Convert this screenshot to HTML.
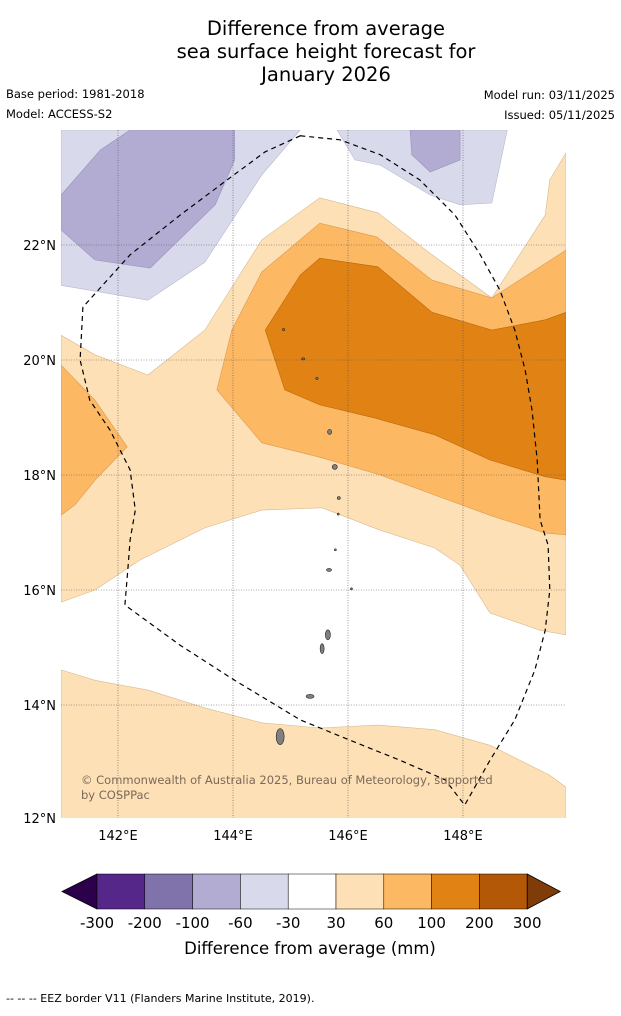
<!DOCTYPE html>
<html><head><meta charset="utf-8">
<style>
body{margin:0;background:#fff;width:621px;height:1011px;overflow:hidden;font-family:"Liberation Sans","DejaVu Sans",sans-serif;}
svg text{font-family:"DejaVu Sans","Liberation Sans",sans-serif;}
</style></head>
<body>
<svg id="chart" width="621" height="1011" viewBox="0 0 621 1011" xmlns="http://www.w3.org/2000/svg">
<g font-size="19.5" text-anchor="middle" fill="#000">
<text x="326" y="35">Difference from average</text>
<text x="326" y="58">sea surface height forecast for</text>
<text x="326" y="81">January 2026</text>
</g>
<g font-size="11.5" fill="#000">
<text x="6" y="98">Base period: 1981-2018</text>
<text x="6" y="118">Model: ACCESS-S2</text>
<text x="615" y="99" text-anchor="end">Model run: 03/11/2025</text>
<text x="615" y="119" text-anchor="end">Issued: 05/11/2025</text>
</g>
<defs><clipPath id="mapclip"><rect x="61" y="130" width="505" height="688"/></clipPath></defs>
<g id="map" clip-path="url(#mapclip)"></g>
<g id="overlay"></g>
<g id="cbar"></g>
<text x="310" y="954" text-anchor="middle" font-size="16.5">Difference from average (mm)</text>
<text x="6" y="1002" font-size="11">--  --  -- EEZ border V11 (Flanders Marine Institute, 2019).</text>
</svg>
<script>
// Map extent (degrees)
const lonMin = 141.0, lonMax = 149.79, latMin = 12.03, latMax = 24.0;
const lonTicks = [142, 144, 146, 148];
const latTicks = [14, 16, 18, 20, 22];
const gridLons = [142, 144, 146, 148];
const gridLats = [14, 16, 18, 20, 22];

// Contour regions [lon, lat]
const lightPurpleA = [[141.01,24],[145.17,24],[144.5,23.22],[143.51,21.7],[142.52,21.04],[141.01,21.3]];
const lightPurpleB = [[145.81,24],[148.77,24],[148.5,22.73],[147.95,22.7],[147.43,22.87],[146.56,23.39],[146.12,23.48]];
const medPurpleA = [[141.01,22.87],[141.69,23.65],[142.21,24],[144.03,24],[144.03,23.48],[143.69,22.7],[142.56,21.6],[141.6,21.74],[141.01,22.26]];
const medPurpleB = [[147.08,24],[147.95,24],[147.95,23.48],[147.43,23.27],[147.11,23.57]];
const lightOrange = [[141.01,20.43],[141.6,20.09],[142.52,19.74],[143.51,20.52],[144.5,22.09],[145.51,22.82],[146.52,22.56],[147.46,21.83],[148.5,21.08],[149.43,22.52],[149.51,23.13],[149.79,23.6],[149.79,15.22],[149.34,15.3],[148.47,15.6],[147.95,16.43],[147.51,16.73],[146.56,17.04],[145.55,17.43],[144.5,17.39],[143.51,17.08],[142.38,16.52],[141.6,16],[141.01,15.79]];
const orangeA = [[143.72,19.48],[143.98,20.52],[144.5,21.53],[145.51,22.38],[146.5,22.14],[147.46,21.39],[148.5,21.08],[149.79,21.91],[149.79,16.96],[149.43,16.99],[148.47,17.3],[147.51,17.65],[146.56,18],[145.51,18.31],[144.5,18.56]];
const orangeB = [[141.01,19.91],[141.6,19.3],[142.16,18.49],[141.6,17.91],[141.25,17.48],[141.01,17.3]];
const darkOrange = [[144.56,20.52],[145.17,21.48],[145.51,21.77],[146.52,21.62],[147.46,20.83],[148.5,20.52],[149.43,20.7],[149.79,20.83],[149.79,17.91],[149.43,17.97],[148.47,18.26],[147.51,18.7],[146.47,18.99],[145.51,19.22],[144.9,19.48]];
const lightOrangeS = [[141.01,14.61],[141.6,14.43],[142.52,14.26],[143.51,13.95],[144.5,13.69],[145.51,13.6],[146.52,13.65],[147.51,13.57],[148.47,13.3],[149.51,12.78],[149.79,12.57],[149.79,12.03],[141.01,12.03]];
const eez = [[145.17,23.9],[145.86,23.83],[146.56,23.57],[147.25,23.13],[147.86,22.52],[148.3,21.83],[148.64,21.22],[148.9,20.52],[149.08,19.83],[149.2,19.13],[149.29,18.26],[149.34,17.22],[149.48,16.78],[149.51,16],[149.43,15.3],[149.25,14.61],[148.9,13.74],[148.47,13.04],[148.03,12.26],[147.69,12.7],[146.9,13.04],[146.03,13.39],[145.17,13.74],[144.03,14.43],[143.08,15.04],[142.12,15.74],[142.17,16.35],[142.21,16.87],[142.3,17.39],[142.21,18.09],[141.86,18.78],[141.51,19.3],[141.34,20],[141.39,20.92],[142.21,21.83],[143.08,22.52],[143.95,23.17],[144.56,23.62]];
const islands = [[144.88,20.53,1.2,1],[145.22,20.02,1.5,1],[145.46,19.68,1.2,1],[145.68,18.75,2,2.5],[145.77,18.14,2.5,2.5],[145.84,17.6,1.5,1.5],[145.83,17.32,1,1],[145.78,16.7,1,1],[145.67,16.35,2.5,1.5],[146.06,16.02,1,1],[145.65,15.22,2.5,5],[145.55,14.98,2,5],[145.34,14.15,4,2],[144.82,13.45,4,8]];

// Colorbar data
const cbLabels = ["-300","-200","-100","-60","-30","30","60","100","200","300"];
const cbColors = ["#542788","#8073ac","#b2abd2","#d8daeb","#ffffff","#fee0b6","#fdb863","#e08214","#b35806"];

const X0=60.5, Y0=130, PX=57.5;
const xs = lon => X0 + (lon - lonMin) * PX;
const ys = lat => Y0 + (latMax - lat) * PX;
const NS="http://www.w3.org/2000/svg";
function mk(tag, attrs, parent){const e=document.createElementNS(NS,tag);for(const k in attrs)e.setAttribute(k,attrs[k]);parent.appendChild(e);return e;}
const map=document.getElementById('map');
const ov=document.getElementById('overlay');
const pts = arr => arr.map(p=>xs(p[0]).toFixed(1)+','+ys(p[1]).toFixed(1)).join(' ');

const regions=[[lightPurpleA,'#d8daeb','light-purple-region','#b8b8cc'],[lightPurpleB,'#d8daeb','light-purple-region','#b8b8cc'],[medPurpleA,'#b2abd2','medium-purple-region','#9a92bb'],[medPurpleB,'#b2abd2','medium-purple-region','#9a92bb'],[lightOrange,'#fee0b6','light-orange-region','#d9b98e'],[orangeA,'#fdb863','orange-region','#d99a50'],[orangeB,'#fdb863','orange-region','#d99a50'],[darkOrange,'#e08214','dark-orange-region','#b9690e'],[lightOrangeS,'#fee0b6','light-orange-region','#d9b98e']];
for(const r of regions){
  const p=mk('polygon',{points:pts(r[0]),fill:r[1],stroke:r[3],'stroke-width':0.6},map);
  
  
}
for(const lo of gridLons){
  const l=mk('line',{x1:xs(lo),x2:xs(lo),y1:130,y2:818,stroke:'#555','stroke-width':0.6,'stroke-dasharray':'1,1.5'},ov);
  
  
}
for(const la of gridLats){
  const l=mk('line',{x1:61,x2:566,y1:ys(la),y2:ys(la),stroke:'#555','stroke-width':0.6,'stroke-dasharray':'1,1.5'},ov);
  
  
}
for(const is of islands){
  const e=mk('ellipse',{cx:xs(is[0]),cy:ys(is[1]),rx:is[2],ry:is[3],fill:'#808080',stroke:'#222','stroke-width':0.6},ov);
  
  
}
const ez=mk('polygon',{points:pts(eez),fill:'none',stroke:'#000','stroke-width':1.2,'stroke-dasharray':'5,4'},ov);


const cp=mk('text',{x:81,y:784,'font-size':11.5,fill:'#7a6a5a'},ov);cp.textContent='© Commonwealth of Australia 2025, Bureau of Meteorology, supported';


const cp2=mk('text',{x:81,y:799,'font-size':11.5,fill:'#7a6a5a'},ov);cp2.textContent='by COSPPac';


for(const lo of lonTicks){
  const t=mk('text',{x:xs(lo),y:840,'font-size':13,'text-anchor':'middle'},ov);t.textContent=lo+'°E';
  
  
}
for(const la of latTicks){
  const t=mk('text',{x:56,y:ys(la)+5,'font-size':13,'text-anchor':'end'},ov);t.textContent=la+'°N';
  
  
}
const t12=mk('text',{x:56,y:823,'font-size':13,'text-anchor':'end'},ov);t12.textContent='12°N';



// colorbar
const cb=document.getElementById('cbar');
const cbx0=97, cbw=47.8, cby=874, cbh=35;
const lt=mk('polygon',{points:`62,${cby+cbh/2} ${cbx0},${cby} ${cbx0},${cby+cbh}`,fill:'#2d004b',stroke:'#000','stroke-width':0.8},cb);


cbColors.forEach((c,i)=>{
  const r=mk('rect',{x:cbx0+i*cbw,y:cby,width:cbw,height:cbh,fill:c,stroke:'#000','stroke-width':0.5},cb);
  
  
});
const xe=cbx0+cbColors.length*cbw;
const rt=mk('polygon',{points:`${xe},${cby} ${xe+33},${cby+cbh/2} ${xe},${cby+cbh}`,fill:'#7f3b08',stroke:'#000','stroke-width':0.8},cb);


cbLabels.forEach((s,i)=>{
  const t=mk('text',{x:cbx0+i*cbw,y:928,'font-size':15,'text-anchor':'middle'},cb);t.textContent=s;
  
  
});
</script>
</body></html>
